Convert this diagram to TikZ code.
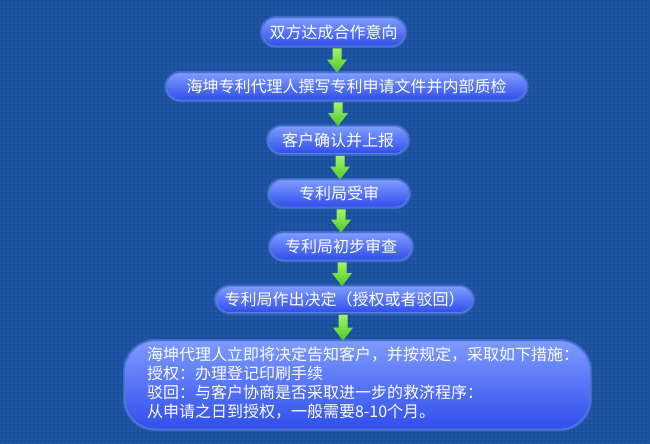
\documentclass[tikz,border=0pt]{standalone}
\usepackage{fontspec}
\setmainfont{Noto Sans CJK SC}
\usetikzlibrary{calc,patterns}
\definecolor{bg}{RGB}{27,80,158}
\definecolor{bglight}{RGB}{38,94,172}
\definecolor{boxtop}{RGB}{125,155,255}
\definecolor{boxmid}{RGB}{78,108,250}
\definecolor{boxbot}{RGB}{48,78,235}
\definecolor{boxrim}{RGB}{95,125,230}
\definecolor{glow}{RGB}{90,130,225}
\definecolor{arrtop}{RGB}{160,245,100}
\definecolor{arrbot}{RGB}{80,200,40}
\pgfdeclarepatternformonly{bgdots}{\pgfpointorigin}{\pgfpoint{4pt}{4pt}}{\pgfpoint{4pt}{4pt}}%
  {\pgfpathrectangle{\pgfpointorigin}{\pgfpoint{2pt}{2pt}}\pgfusepath{fill}}
\tikzset{
  pill/.style={shade, top color=boxtop, middle color=boxmid, bottom color=boxbot,
    draw=boxrim, line width=0.8pt, rounded corners=13.5pt, minimum height=27pt,
    preaction={draw=glow, line width=4pt, draw opacity=0.55},
    inner sep=0pt, text=white, font=\fontsize{16pt}{18pt}\selectfont},
  bigbox/.style={pill, rounded corners=30pt, minimum height=88pt,
    font=\fontsize{16pt}{17.7pt}\selectfont},
}
\newcommand\greenarrow[3]{%
  \shade[top color=arrtop, bottom color=arrbot]
    let \p1=(#2.south -| #1), \p2=(#3.north -| #1) in
    ({\x1-4.5pt},{\y1-2pt}) -- ({\x1+4.5pt},{\y1-2pt}) -- ({\x1+4.5pt},{\y2+13pt})
    -- ({\x1+10pt},{\y2+13pt}) -- (\x1,\y2) -- ({\x1-10pt},{\y2+13pt})
    -- ({\x1-4.5pt},{\y2+13pt}) -- cycle;}
\begin{document}
\begin{tikzpicture}[x=1pt,y=-1pt]
  \useasboundingbox (0,0) rectangle (650,444);
  \fill[bg] (0,0) rectangle (650,444);
  \fill[pattern=bgdots, pattern color=bglight] (0,0) rectangle (650,444);
  \node[pill, minimum width=143pt, minimum height=28pt] (n1) at (333.5,32) {双方达成合作意向};
  \node[pill, minimum width=360pt] (n2) at (346.5,86.5) {海坤专利代理人撰写专利申请文件并内部质检};
  \node[pill, minimum width=140pt] (n3) at (338,140) {客户确认并上报};
  \node[pill, minimum width=140pt] (n4) at (339,193.5) {专利局受审};
  \node[pill, minimum width=142pt] (n5) at (341,246.5) {专利局初步审查};
  \node[pill, minimum width=257pt, minimum height=26pt] (n6) at (344.5,299.5) {专利局作出决定（授权或者驳回）};
  \node[bigbox] (n7) at (357.5,385) {\begin{tabular}{@{\hspace{22pt}}p{443pt}@{}}海坤代理人立即将决定告知客户，并按规定，采取如下措施：\\授权：办理登记印刷手续\\驳回：与客户协商是否采取进一步的救济程序：\\从申请之日到授权，一般需要8-10个月。\end{tabular}};
  \coordinate (a1) at (337,0);
  \coordinate (a2) at (338,0);
  \coordinate (a3) at (340,0);
  \coordinate (a4) at (341,0);
  \coordinate (a5) at (342,0);
  \coordinate (a6) at (343,0);
  \greenarrow{a1}{n1}{n2}
  \greenarrow{a2}{n2}{n3}
  \greenarrow{a3}{n3}{n4}
  \greenarrow{a4}{n4}{n5}
  \greenarrow{a5}{n5}{n6}
  \greenarrow{a6}{n6}{n7}
\end{tikzpicture}
\end{document}
